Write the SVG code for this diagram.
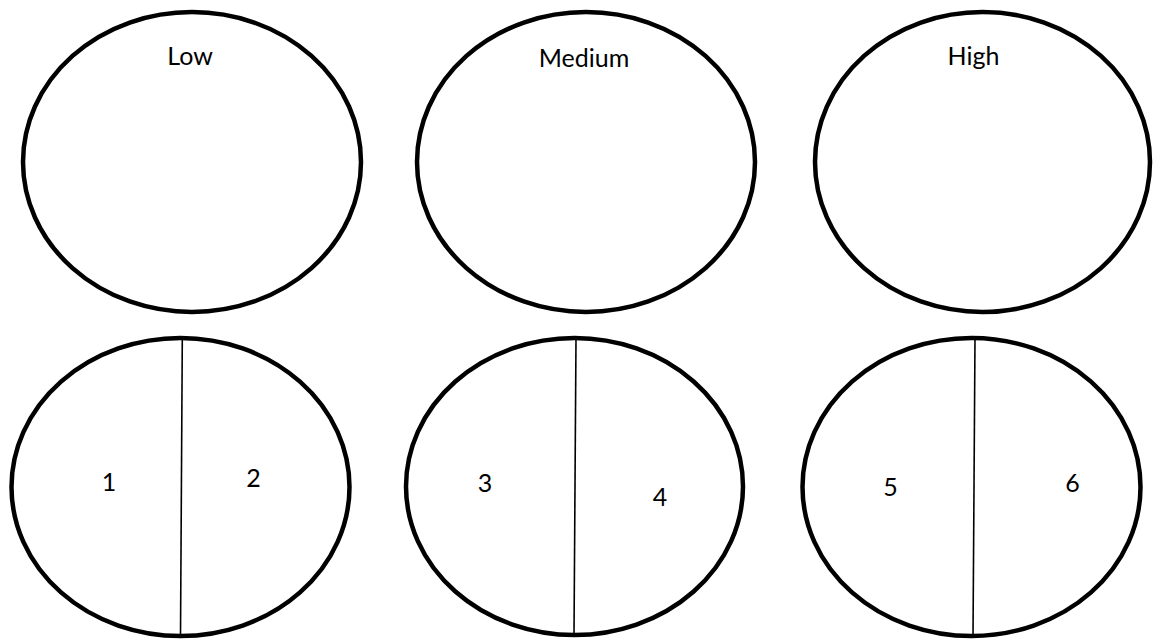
<svg xmlns="http://www.w3.org/2000/svg" width="1159" height="639" viewBox="0 0 1159 639">
<style>
.e{fill:#fff;stroke:#000;stroke-width:4.5}
.d{stroke:#000;stroke-width:1.6;fill:none}
.t{font-family:Lato,"Open Sans",sans-serif;font-size:25px;fill:#000;text-anchor:middle}
</style>
<rect width="1159" height="639" fill="#fff"/>
<g id="low">
<ellipse class="e" cx="192" cy="162" rx="169" ry="150"/>
<text class="t" x="190" y="65">Low</text>
</g>
<g id="medium">
<ellipse class="e" cx="586" cy="162" rx="169" ry="150"/>
<text class="t" x="584" y="66.5">Medium</text>
</g>
<g id="high">
<ellipse class="e" cx="982.5" cy="162" rx="167.5" ry="150"/>
<text class="t" x="973.5" y="65">High</text>
</g>
<g id="split1">
<ellipse class="e" cx="180.5" cy="487" rx="169" ry="149"/>
<text class="t" x="109" y="490.5">1</text>
<text class="t" x="253.5" y="486.5">2</text>
</g>
<g id="split2">
<ellipse class="e" cx="574.5" cy="486.5" rx="168.5" ry="148.5"/>
<text class="t" x="485" y="491.5">3</text>
<text class="t" x="660" y="505.5">4</text>
</g>
<g id="split3">
<ellipse class="e" cx="971.5" cy="487" rx="169" ry="149"/>
<text class="t" x="890.5" y="495.5">5</text>
<text class="t" x="1072.5" y="491.5">6</text>
</g>
<g id="connectors">
<line class="d" x1="182.3" y1="338" x2="180.5" y2="636"/>
<line class="d" x1="576" y1="338" x2="574" y2="635"/>
<line class="d" x1="975" y1="338" x2="973" y2="636"/>
</g>
</svg>
